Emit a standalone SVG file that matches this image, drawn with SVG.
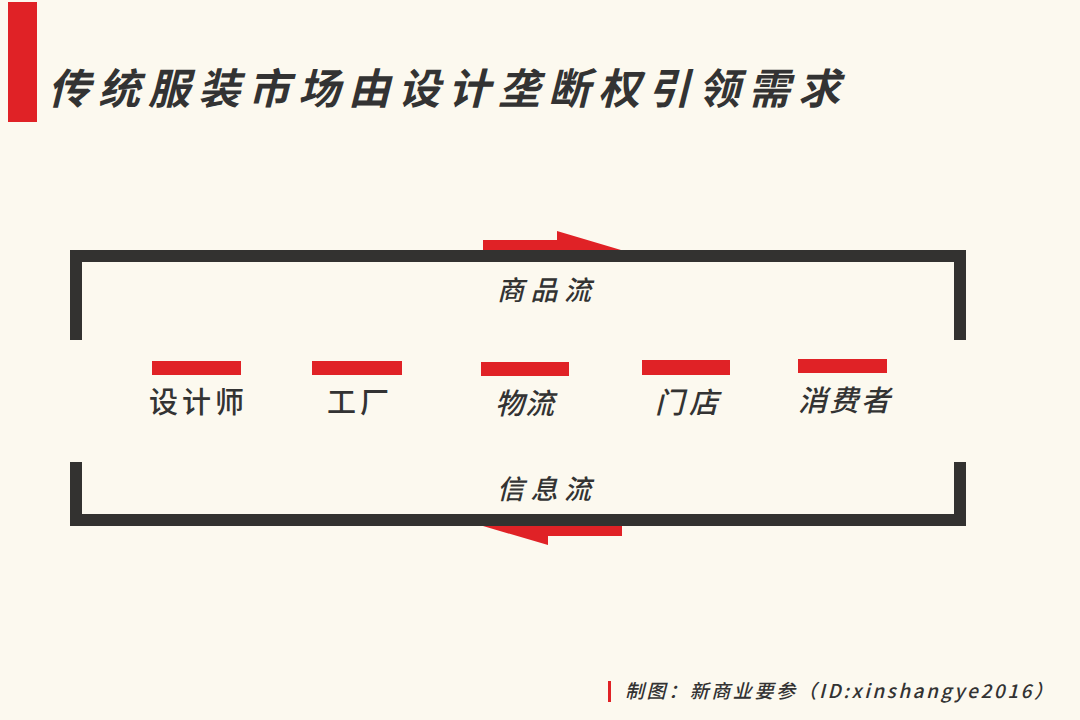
<svg xmlns="http://www.w3.org/2000/svg" width="1080" height="720" viewBox="0 0 1080 720">
<style>
.t{font-family:"Noto Sans CJK SC","Noto Sans",sans-serif;font-style:italic;fill:#333333;}
.up{font-style:normal;}
.title{font-size:42px;font-weight:bold;}
.lbl{font-size:29px;font-weight:500;}
.flow{font-size:27px;font-weight:500;}
.foot{font-size:19px;font-weight:500;}
.red{fill:#E02226;}
.frame{fill:none;stroke:#333230;stroke-width:12;stroke-linejoin:miter;}
</style>
<rect width="1080" height="720" fill="#FCF9EF"/>
<g id="header">
<rect class="red" x="8" y="2" width="29" height="120"/>
<text class="t title" x="48" y="104" textLength="792" lengthAdjust="spacing">传统服装市场由设计垄断权引领需求</text>
</g>
<g id="connectors">
<polyline class="frame" points="76,340 76,256 960,256 960,340"/>
<polyline class="frame" points="76,462 76,520 960,520 960,462"/>
<polygon class="red" points="483,240 557,240 557,231 621,250 483,250"/>
<polygon class="red" points="622,526 622,536 548,536 548,545 483,526"/>
<text class="t flow" x="497" y="300" textLength="94" lengthAdjust="spacing">商品流</text>
<text class="t flow" x="497" y="499" textLength="94" lengthAdjust="spacing">信息流</text>
</g>
<g id="node-designer">
<rect class="red" x="152" y="361" width="89" height="14"/>
<text class="t lbl up" x="149" y="413" textLength="95" lengthAdjust="spacing">设计师</text>
</g>
<g id="node-factory">
<rect class="red" x="312" y="361" width="90" height="14"/>
<text class="t lbl up" x="327" y="413" textLength="62" lengthAdjust="spacing">工厂</text>
</g>
<g id="node-logistics">
<rect class="red" x="481" y="362" width="88" height="14"/>
<text class="t lbl" x="495" y="414" textLength="59" lengthAdjust="spacing">物流</text>
</g>
<g id="node-store">
<rect class="red" x="642" y="360" width="88" height="15"/>
<text class="t lbl" x="655" y="413" textLength="63" lengthAdjust="spacing">门店</text>
</g>
<g id="node-consumer">
<rect class="red" x="798" y="359" width="89" height="14"/>
<text class="t lbl" x="798" y="411" textLength="92" lengthAdjust="spacing">消费者</text>
</g>
<g id="footer">
<rect class="red" x="608" y="681" width="3" height="21"/>
<text class="t foot" x="625" y="698" textLength="428" lengthAdjust="spacing">制图：新商业要参（ID:xinshangye2016）</text>
</g>
</svg>
